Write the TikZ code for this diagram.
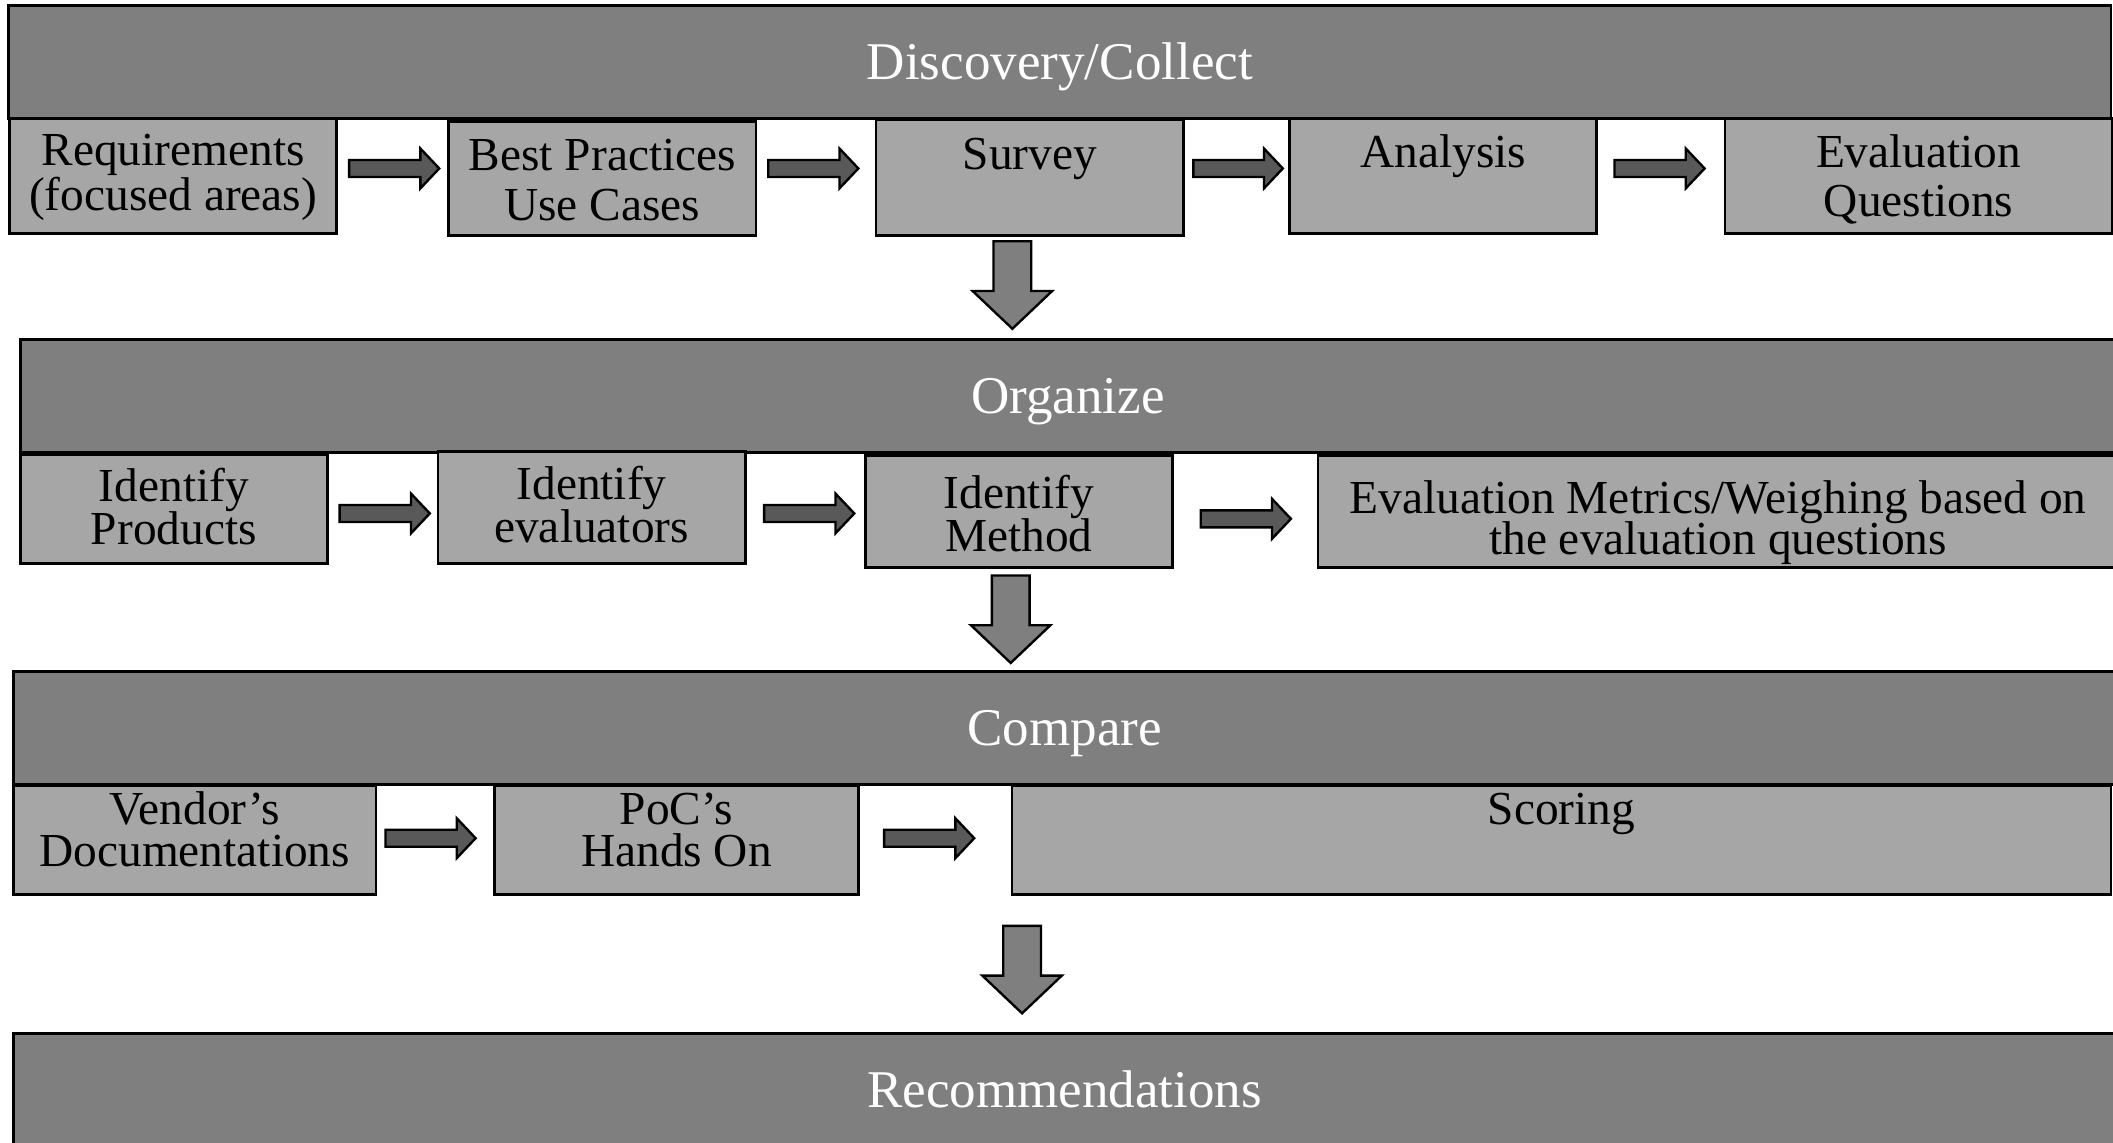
\documentclass[tikz,border=0pt]{standalone}
\usepackage{fontspec}
\setmainfont{Liberation Serif}
\usetikzlibrary{calc}
\definecolor{bargray}{HTML}{7F7F7F}
\definecolor{boxgray}{HTML}{A6A6A6}
\definecolor{arrowgray}{HTML}{595959}
\newcommand\twol[2]{\vbox{\lineskiplimit=-20pt\halign{\hfil##\hfil\cr#1\cr#2\cr}}}
\tikzset{
  bar/.style={draw=black, line width=0.6pt, fill=bargray, text=white,
    font=\fontsize{11.2}{13}\selectfont, inner sep=0pt,
    text height=8pt, text depth=0.6pt},
  stepbox/.style={draw=black, line width=0.6pt, fill=boxgray, text=black,
    font=\fontsize{10}{9}\selectfont, inner sep=0pt},
  % #1 = first baseline above centre, #2 = line spacing (both in cm)
  tb/.style 2 args={text depth=2pt, text height={2pt+2*((#2cm)-(#1cm))},
    execute at begin node={\baselineskip=#2cm\relax}},
  rblock/.style={draw=black, line width=0.5pt, fill=arrowgray},
  dblock/.style={draw=black, line width=0.5pt, fill=bargray},
}
\newcommand\blockR[2]{%
  \draw[rblock] let \p1=(#1), \p2=(#2) in
    (\x1,\y1+0.063cm) -- (\x2-0.14cm,\y1+0.063cm) -- (\x2-0.14cm,\y1+0.148cm)
    -- (\x2,\y1) -- (\x2-0.14cm,\y1-0.148cm) -- (\x2-0.14cm,\y1-0.063cm)
    -- (\x1,\y1-0.063cm) -- cycle;}
\newcommand\blockD[2]{%
  \draw[dblock] let \p1=(#1), \p2=(#2) in
    (\x1-0.14cm,\y1) -- (\x1+0.14cm,\y1) -- (\x1+0.14cm,\y2+0.28cm)
    -- (\x1+0.295cm,\y2+0.28cm) -- (\x1,\y2) -- (\x1-0.295cm,\y2+0.28cm)
    -- (\x1-0.14cm,\y2+0.28cm) -- cycle;}
\begin{document}
\begin{tikzpicture}
\useasboundingbox (0,0) rectangle (15.68,-8.48);
\clip (0,0) rectangle (15.68,-8.48);

% bars
\node[bar, minimum width=15.60cm, minimum height=0.84cm] (disc) at (7.865,-0.46) {Discovery/Collect};
\node[bar, minimum width=15.55cm, minimum height=0.84cm] (org) at (7.925,-2.94) {Organize};
\node[bar, minimum width=15.60cm, minimum height=0.84cm] (cmp) at (7.90,-5.40) {Compare};
\node[bar, minimum width=15.60cm, minimum height=0.84cm] (rec) at (7.90,-8.09) {Recommendations};

% row 1
\node[stepbox, tb={0.08}{0.334}, minimum width=2.43cm, minimum height=0.85cm] (req) at (1.285,-1.305) {\twol{Requirements}{(focused areas)}};
\node[stepbox, tb={0.058}{0.37}, minimum width=2.28cm, minimum height=0.85cm] (best) at (4.47,-1.325) {\twol{Best Practices}{Use Cases}};
\node[stepbox, tb={0.064}{0.37}, minimum width=2.285cm, minimum height=0.86cm] (survey) at (7.6425,-1.32) {\twol{Survey}{}};
\node[stepbox, tb={0.06}{0.37}, minimum width=2.28cm, minimum height=0.85cm] (analysis) at (10.71,-1.305) {\twol{Analysis}{}};
\node[stepbox, tb={0.064}{0.363}, minimum width=2.875cm, minimum height=0.85cm] (evq) at (14.2375,-1.305) {\twol{Evaluation}{Questions}};

% row 2
\node[stepbox, tb={0.057}{0.321}, minimum width=2.28cm, minimum height=0.81cm] (prod) at (1.29,-3.775) {\twol{Identify}{Products}};
\node[stepbox, tb={0.057}{0.321}, minimum width=2.28cm, minimum height=0.83cm] (evals) at (4.39,-3.765) {\twol{Identify}{evaluators}};
\node[stepbox, tb={0.02}{0.315}, minimum width=2.28cm, minimum height=0.83cm] (method) at (7.56,-3.795) {\twol{Identify}{Method}};
\node[stepbox, tb={-0.013}{0.31}, minimum width=5.94cm, minimum height=0.83cm] (metrics) at (12.75,-3.795) {\twol{Evaluation Metrics/Weighing based on}{the evaluation questions}};

% row 3
\node[stepbox, tb={0.115}{0.309}, minimum width=2.69cm, minimum height=0.81cm] (vendor) at (1.445,-6.235) {\twol{Vendor’s}{Documentations}};
\node[stepbox, tb={0.115}{0.309}, minimum width=2.70cm, minimum height=0.81cm] (poc) at (5.02,-6.235) {\twol{PoC’s}{Hands On}};
\node[stepbox, tb={0.115}{0.309}, minimum width=8.155cm, minimum height=0.81cm] (scoring) at (11.5875,-6.235) {\twol{Scoring}{}};

% right arrows row 1
\blockR{$(req.east)+(0.08,0.055)$}{$(best.west)+(-0.06,0)$}
\blockR{$(best.east)+(0.08,0.075)$}{$(survey.west)+(-0.12,0)$}
\blockR{$(survey.east)+(0.06,0.07)$}{$(analysis.west)+(-0.04,0)$}
\blockR{$(analysis.east)+(0.12,0.055)$}{$(evq.west)+(-0.14,0)$}
% row 2
\blockR{$(prod.east)+(0.08,-0.035)$}{$(evals.west)+(-0.05,0)$}
\blockR{$(evals.east)+(0.13,-0.045)$}{$(method.west)+(-0.07,0)$}
\blockR{$(method.east)+(0.20,-0.055)$}{$(metrics.west)+(-0.19,0)$}
% row 3
\blockR{$(vendor.east)+(0.06,0.015)$}{$(poc.west)+(-0.13,0)$}
\blockR{$(poc.east)+(0.18,0.015)$}{$(scoring.west)+(-0.27,0)$}

% down arrows
\blockD{$(survey.south)+(-0.13,-0.03)$}{$(org.north)+(0,0.07)$}
\blockD{$(method.south)+(-0.06,-0.05)$}{$(cmp.north)+(0,0.05)$}
\blockD{$(scoring.south west)+(0.085,-0.22)$}{$(rec.north)+(0,0.14)$}
\end{tikzpicture}
\end{document}
